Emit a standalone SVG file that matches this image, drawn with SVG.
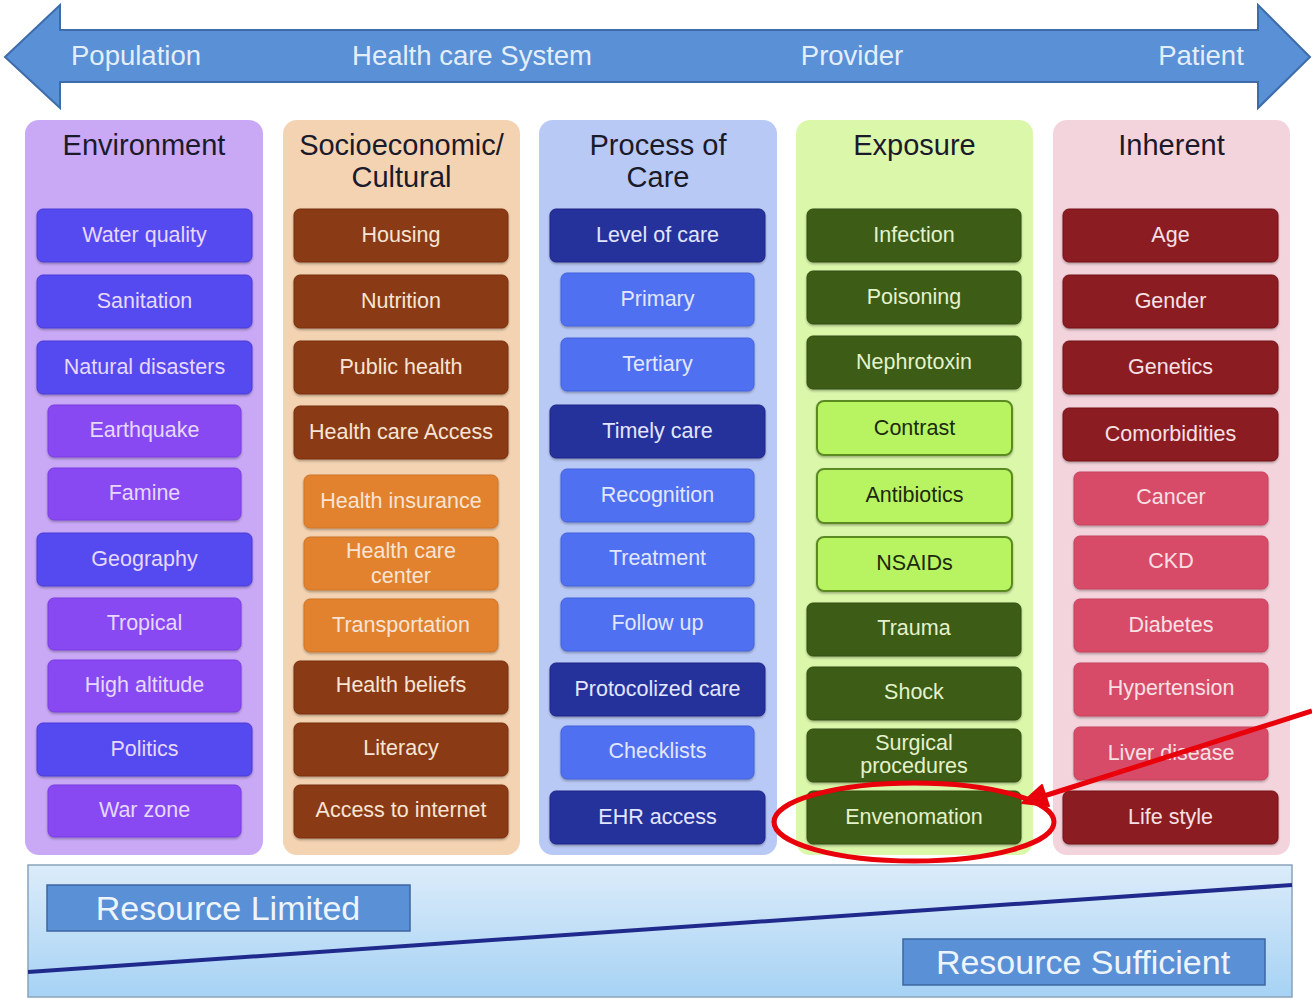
<svg xmlns="http://www.w3.org/2000/svg" width="1312" height="999" viewBox="0 0 1312 999">
<defs>
<linearGradient id="bg" x1="0" y1="0" x2="0" y2="1"><stop offset="0" stop-color="#dcecfa"/><stop offset="1" stop-color="#a6d2f4"/></linearGradient>
<filter id="sh" x="-5%" y="-10%" width="110%" height="130%"><feDropShadow dx="0" dy="1.5" stdDeviation="1.2" flood-color="#000" flood-opacity="0.3"/></filter>
</defs>
<style>
text{font-family:"Liberation Sans",Arial,sans-serif;text-anchor:middle}
.hd{font-size:29px;fill:#1b1a2a}
.top{font-size:27.5px;fill:#e4eefa}
.b{font-size:21.5px}
.box{filter:url(#sh)}
.envD{fill:#5448f0;stroke:#4a3cd6}
.envL{fill:#8848f2;stroke:#7a3ee0}
.envT{fill:#e6d8ff}
.socD{fill:#8a3a12;stroke:#7a3010}
.socL{fill:#e2822e;stroke:#cf7428}
.socT{fill:#f7e4d4}
.proD{fill:#26309c;stroke:#1f2888}
.proL{fill:#5070f0;stroke:#4562dc}
.proT{fill:#e2e6ff}
.expD{fill:#3d5c16;stroke:#334f12}
.expL{fill:#b8f462;stroke:#5c8a24;stroke-width:2}
.expT{fill:#e4f2cc}
.expLT{fill:#1c2a0c}
.inhD{fill:#8a1a20;stroke:#76141a}
.inhL{fill:#d84c68;stroke:#c8405c}
.inhT{fill:#f7e0e4}
.res{font-size:34px;fill:#eef4fc}
</style>
<rect width="1312" height="999" fill="#ffffff"/>
<g id="top-arrow">
<polygon points="5,57 60,5 60,30 1258,30 1258,5 1310,57 1258,108 1258,82 60,82 60,108" fill="#5990d6" stroke="#3e6caa" stroke-width="2"/>
<text class="top" x="136" y="65">Population</text>
<text class="top" x="472" y="65">Health care System</text>
<text class="top" x="852" y="65">Provider</text>
<text class="top" x="1201" y="65">Patient</text>
</g>
<g id="col-environment">
<rect x="25" y="120" width="238" height="735" rx="14" fill="#c9a9f6"/>
<text class="hd" x="144" y="155">Environment</text>
<g id="n-water"><rect class="box envD" x="37" y="209" width="215" height="53" rx="6"/><text class="b envT" x="144.5" y="242">Water quality</text></g>
<g id="n-sanitation"><rect class="box envD" x="37" y="275" width="215" height="53" rx="6"/><text class="b envT" x="144.5" y="308">Sanitation</text></g>
<g id="n-natural"><rect class="box envD" x="37" y="341" width="215" height="53" rx="6"/><text class="b envT" x="144.5" y="374">Natural disasters</text></g>
<g id="n-earthquake"><rect class="box envL" x="48" y="405" width="193" height="52" rx="6"/><text class="b envT" x="144.5" y="437">Earthquake</text></g>
<g id="n-famine"><rect class="box envL" x="48" y="468" width="193" height="52" rx="6"/><text class="b envT" x="144.5" y="500">Famine</text></g>
<g id="n-geography"><rect class="box envD" x="37" y="533" width="215" height="53" rx="6"/><text class="b envT" x="144.5" y="566">Geography</text></g>
<g id="n-tropical"><rect class="box envL" x="48" y="598" width="193" height="52" rx="6"/><text class="b envT" x="144.5" y="630">Tropical</text></g>
<g id="n-altitude"><rect class="box envL" x="48" y="660" width="193" height="52" rx="6"/><text class="b envT" x="144.5" y="692">High altitude</text></g>
<g id="n-politics"><rect class="box envD" x="37" y="723" width="215" height="53" rx="6"/><text class="b envT" x="144.5" y="756">Politics</text></g>
<g id="n-warzone"><rect class="box envL" x="48" y="785" width="193" height="52" rx="6"/><text class="b envT" x="144.5" y="817">War zone</text></g>
</g>
<g id="col-socio">
<rect x="283" y="120" width="237" height="735" rx="14" fill="#f3d3b2"/>
<text class="hd" x="401.5" y="155">Socioeconomic/</text>
<text class="hd" x="401.5" y="187">Cultural</text>
<g id="n-housing"><rect class="box socD" x="294" y="209" width="214" height="53" rx="6"/><text class="b socT" x="401" y="242">Housing</text></g>
<g id="n-nutrition"><rect class="box socD" x="294" y="275" width="214" height="53" rx="6"/><text class="b socT" x="401" y="308">Nutrition</text></g>
<g id="n-publichealth"><rect class="box socD" x="294" y="341" width="214" height="53" rx="6"/><text class="b socT" x="401" y="374">Public health</text></g>
<g id="n-access"><rect class="box socD" x="294" y="406" width="214" height="53" rx="6"/><text class="b socT" x="401" y="439">Health care Access</text></g>
<g id="n-insurance"><rect class="box socL" x="304" y="475" width="194" height="53" rx="6"/><text class="b socT" x="401" y="508">Health insurance</text></g>
<g id="n-center"><rect class="box socL" x="304" y="537" width="194" height="53" rx="6"/><text class="b socT" x="401" y="558">Health care</text><text class="b socT" x="401" y="583">center</text></g>
<g id="n-transport"><rect class="box socL" x="304" y="599" width="194" height="53" rx="6"/><text class="b socT" x="401" y="632">Transportation</text></g>
<g id="n-beliefs"><rect class="box socD" x="294" y="661" width="214" height="53" rx="6"/><text class="b socT" x="401" y="692">Health beliefs</text></g>
<g id="n-literacy"><rect class="box socD" x="294" y="723" width="214" height="53" rx="6"/><text class="b socT" x="401" y="755">Literacy</text></g>
<g id="n-internet"><rect class="box socD" x="294" y="785" width="214" height="53" rx="6"/><text class="b socT" x="401" y="817">Access to internet</text></g>
</g>
<g id="col-process">
<rect x="539" y="120" width="238" height="735" rx="14" fill="#b9c9f6"/>
<text class="hd" x="658" y="155">Process of</text>
<text class="hd" x="658" y="187">Care</text>
<g id="n-level"><rect class="box proD" x="550" y="209" width="215" height="53" rx="6"/><text class="b proT" x="657.5" y="242">Level of care</text></g>
<g id="n-primary"><rect class="box proL" x="561" y="273" width="193" height="53" rx="6"/><text class="b proT" x="657.5" y="306">Primary</text></g>
<g id="n-tertiary"><rect class="box proL" x="561" y="338" width="193" height="53" rx="6"/><text class="b proT" x="657.5" y="371">Tertiary</text></g>
<g id="n-timely"><rect class="box proD" x="550" y="405" width="215" height="53" rx="6"/><text class="b proT" x="657.5" y="438">Timely care</text></g>
<g id="n-recognition"><rect class="box proL" x="561" y="469" width="193" height="53" rx="6"/><text class="b proT" x="657.5" y="502">Recognition</text></g>
<g id="n-treatment"><rect class="box proL" x="561" y="533" width="193" height="53" rx="6"/><text class="b proT" x="657.5" y="565">Treatment</text></g>
<g id="n-follow"><rect class="box proL" x="561" y="598" width="193" height="53" rx="6"/><text class="b proT" x="657.5" y="630">Follow up</text></g>
<g id="n-protocol"><rect class="box proD" x="550" y="663" width="215" height="53" rx="6"/><text class="b proT" x="657.5" y="696">Protocolized care</text></g>
<g id="n-checklists"><rect class="box proL" x="561" y="726" width="193" height="53" rx="6"/><text class="b proT" x="657.5" y="758">Checklists</text></g>
<g id="n-ehr"><rect class="box proD" x="550" y="791" width="215" height="53" rx="6"/><text class="b proT" x="657.5" y="824">EHR access</text></g>
</g>
<g id="col-exposure">
<rect x="796" y="120" width="237" height="735" rx="14" fill="#dbf7aa"/>
<text class="hd" x="914.5" y="155">Exposure</text>
<g id="n-infection"><rect class="box expD" x="807" y="209" width="214" height="53" rx="6"/><text class="b expT" x="914" y="242">Infection</text></g>
<g id="n-poisoning"><rect class="box expD" x="807" y="271" width="214" height="53" rx="6"/><text class="b expT" x="914" y="304">Poisoning</text></g>
<g id="n-nephrotoxin"><rect class="box expD" x="807" y="336" width="214" height="53" rx="6"/><text class="b expT" x="914" y="369">Nephrotoxin</text></g>
<g id="n-contrast"><rect class="box expL" x="817" y="401" width="195" height="54" rx="7"/><text class="b expLT" x="914.5" y="435">Contrast</text></g>
<g id="n-antibiotics"><rect class="box expL" x="817" y="469" width="195" height="54" rx="7"/><text class="b expLT" x="914.5" y="502">Antibiotics</text></g>
<g id="n-nsaids"><rect class="box expL" x="817" y="537" width="195" height="54" rx="7"/><text class="b expLT" x="914.5" y="570">NSAIDs</text></g>
<g id="n-trauma"><rect class="box expD" x="807" y="603" width="214" height="53" rx="6"/><text class="b expT" x="914" y="635">Trauma</text></g>
<g id="n-shock"><rect class="box expD" x="807" y="667" width="214" height="53" rx="6"/><text class="b expT" x="914" y="699">Shock</text></g>
<g id="n-surgical"><rect class="box expD" x="807" y="729" width="214" height="53" rx="6"/><text class="b expT" x="914" y="750">Surgical</text><text class="b expT" x="914" y="773">procedures</text></g>
<g id="n-envenomation"><rect class="box expD" x="807" y="791" width="214" height="53" rx="6"/><text class="b expT" x="914" y="824">Envenomation</text></g>
</g>
<g id="col-inherent">
<rect x="1053" y="120" width="237" height="735" rx="14" fill="#f3d4dd"/>
<text class="hd" x="1171.5" y="155">Inherent</text>
<g id="n-age"><rect class="box inhD" x="1063" y="209" width="215" height="53" rx="6"/><text class="b inhT" x="1170.5" y="242">Age</text></g>
<g id="n-gender"><rect class="box inhD" x="1063" y="275" width="215" height="53" rx="6"/><text class="b inhT" x="1170.5" y="308">Gender</text></g>
<g id="n-genetics"><rect class="box inhD" x="1063" y="341" width="215" height="53" rx="6"/><text class="b inhT" x="1170.5" y="374">Genetics</text></g>
<g id="n-comorbid"><rect class="box inhD" x="1063" y="408" width="215" height="53" rx="6"/><text class="b inhT" x="1170.5" y="441">Comorbidities</text></g>
<g id="n-cancer"><rect class="box inhL" x="1074" y="472" width="194" height="53" rx="6"/><text class="b inhT" x="1171" y="504">Cancer</text></g>
<g id="n-ckd"><rect class="box inhL" x="1074" y="536" width="194" height="53" rx="6"/><text class="b inhT" x="1171" y="568">CKD</text></g>
<g id="n-diabetes"><rect class="box inhL" x="1074" y="599" width="194" height="53" rx="6"/><text class="b inhT" x="1171" y="632">Diabetes</text></g>
<g id="n-hypertension"><rect class="box inhL" x="1074" y="663" width="194" height="53" rx="6"/><text class="b inhT" x="1171" y="695">Hypertension</text></g>
<g id="n-liver"><rect class="box inhL" x="1074" y="727" width="194" height="53" rx="6"/><text class="b inhT" x="1171" y="760">Liver disease</text></g>
<g id="n-lifestyle"><rect class="box inhD" x="1063" y="791" width="215" height="53" rx="6"/><text class="b inhT" x="1170.5" y="824">Life style</text></g>
</g>
<g id="resources">
<rect x="28" y="865" width="1264" height="132" fill="url(#bg)" stroke="#8aa2bc" stroke-width="1.5"/>
<line x1="28" y1="972" x2="1292" y2="885" stroke="#1f2a8c" stroke-width="4"/>
<g id="n-limited"><rect x="47" y="885" width="363" height="46" fill="#5990d6" stroke="#3d66a2" stroke-width="1.5"/><text class="res" x="228" y="920">Resource Limited</text></g>
<g id="n-sufficient"><rect x="903" y="939" width="362" height="46" fill="#5990d6" stroke="#3d66a2" stroke-width="1.5"/><text class="res" x="1083" y="974">Resource Sufficient</text></g>
</g>
<g id="connectors">
<ellipse cx="914" cy="822" rx="140" ry="39" fill="none" stroke="#e8000a" stroke-width="5"/>
<line x1="1312" y1="711" x2="1044" y2="796" stroke="#e8000a" stroke-width="5"/>
<polygon points="1022,803 1049,806 1042,785" fill="#e8000a" stroke="#e8000a" stroke-width="2" stroke-linejoin="round"/>
</g>
</svg>
